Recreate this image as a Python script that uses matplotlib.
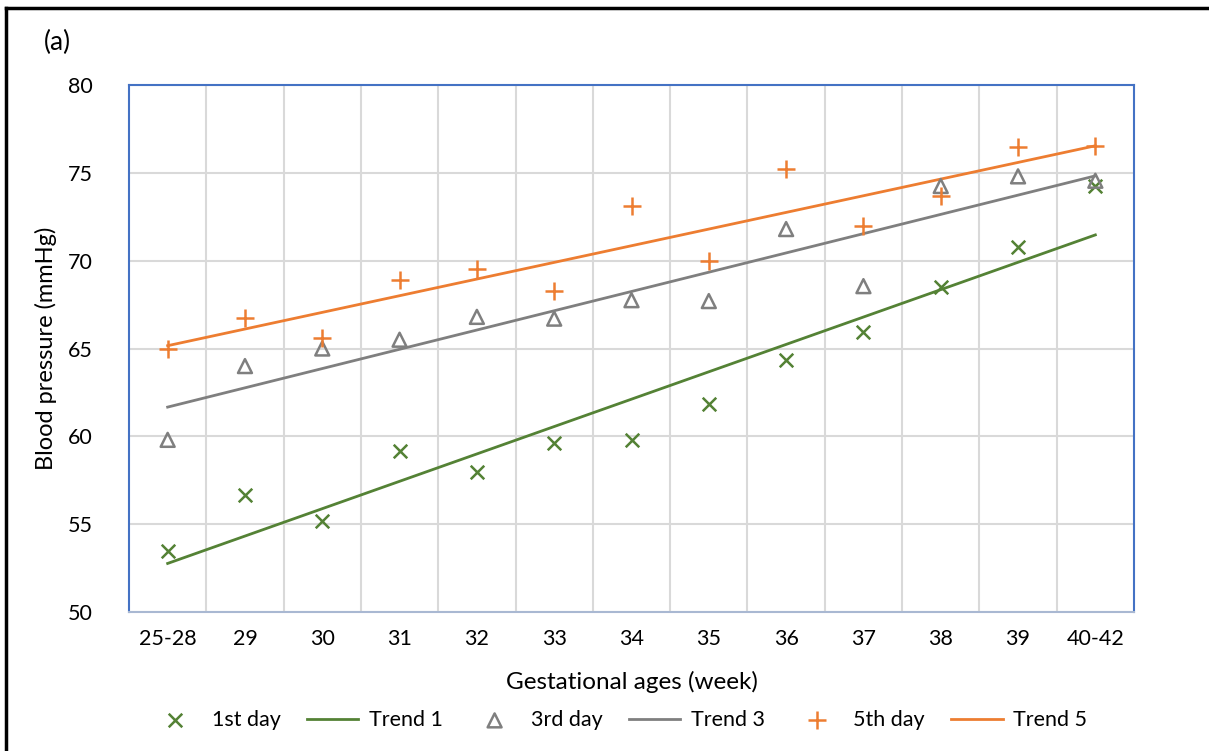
import matplotlib.pyplot as plt
import numpy as np
from matplotlib.lines import Line2D

plt.rcParams["font.family"] = ["Lato", "DejaVu Sans"]

weeks = ["25-28", "29", "30", "31", "32", "33", "34", "35", "36", "37", "38", "39", "40-42"]
day1 = [53.5, 56.65, 55.2, 59.15, 57.95, 59.6, 59.8, 61.85, 64.35, 65.95, 68.5, 70.75, 74.25]
day3 = [59.8, 64.0, 65.0, 65.5, 66.8, 66.7, 67.75, 67.7, 71.8, 68.55, 74.25, 74.8, 74.55]
day5 = [65.0, 66.75, 65.6, 68.9, 69.5, 68.3, 73.1, 70.0, 75.2, 72.0, 73.7, 76.45, 76.55]

GREEN = "#548235"
GRAY = "#7F7F7F"
ORANGE = "#ED7D31"


def trend(values):
    # least-squares line over category index, like a spreadsheet trendline
    idx = np.arange(1, len(values) + 1)
    slope, intercept = np.polyfit(idx, values, 1)
    return slope * idx + intercept


fig = plt.figure(figsize=(12.09, 7.51), dpi=100)
ax = fig.add_axes([129 / 1209, 1 - 612 / 751, (1134 - 129) / 1209, (612 - 85) / 751])

x = np.arange(len(weeks))
ax.scatter(x, day1, marker="x", s=95, color=GREEN, linewidths=1.8, zorder=3, label="1st day")
ax.plot(x, trend(day1), color=GREEN, lw=2, zorder=2, label="Trend 1")
ax.scatter(x, day3, marker="^", s=100, facecolors="none", edgecolors=GRAY, linewidths=1.8, zorder=3,
           label="3rd day")
ax.plot(x, trend(day3), color=GRAY, lw=2, zorder=2, label="Trend 3")
ax.scatter(x, day5, marker="+", s=150, color=ORANGE, linewidths=1.8, zorder=3, label="5th day")
ax.plot(x, trend(day5), color=ORANGE, lw=2, zorder=2, label="Trend 5")

ax.set_xlim(-0.5, len(weeks) - 0.5)
ax.set_ylim(50, 80)
ax.set_xticks(x, weeks)
ax.set_yticks(range(50, 81, 5))
ax.set_xticks(np.arange(0.5, len(weeks) - 0.5), minor=True)
ax.grid(which="minor", axis="x", color="#D9D9D9", lw=1.5)
ax.grid(which="major", axis="y", color="#D9D9D9", lw=1.5)
ax.set_axisbelow(True)
ax.tick_params(which="both", length=0, labelsize=15.5, colors="black")
ax.tick_params(axis="x", pad=12)
ax.tick_params(axis="y", pad=26)

# dotted plot-area outline
for side in ("top", "right", "left", "bottom"):
    sp = ax.spines[side]
    sp.set_color("#4472C4" if side != "bottom" else "#A9B8D2")
    sp.set_linewidth(1.5)
    sp.set_linestyle((0, (1, 1)))

ax.set_xlabel("Gestational ages (week)", fontsize=17.5, labelpad=16)
ax.set_ylabel("Blood pressure (mmHg)", fontsize=17, labelpad=8)

fig.text(44 / 1209, 1 - 42 / 751, "(a)", fontsize=19, ha="left", va="center")

ax.legend(loc="center", bbox_to_anchor=(0.487, -0.205), ncol=6, frameon=False, fontsize=15.5,
          handlelength=2.4, columnspacing=1.2, handletextpad=0.5)

# outer frame
fig.add_artist(Line2D([6 / 1209, 6 / 1209], [0, 1 - 8 / 751], color="black", lw=2.5,
                      transform=fig.transFigure))
fig.add_artist(Line2D([6 / 1209, 1], [1 - 8 / 751, 1 - 8 / 751], color="black", lw=2.5,
                      transform=fig.transFigure))

fig.savefig("out.png", dpi=100)
